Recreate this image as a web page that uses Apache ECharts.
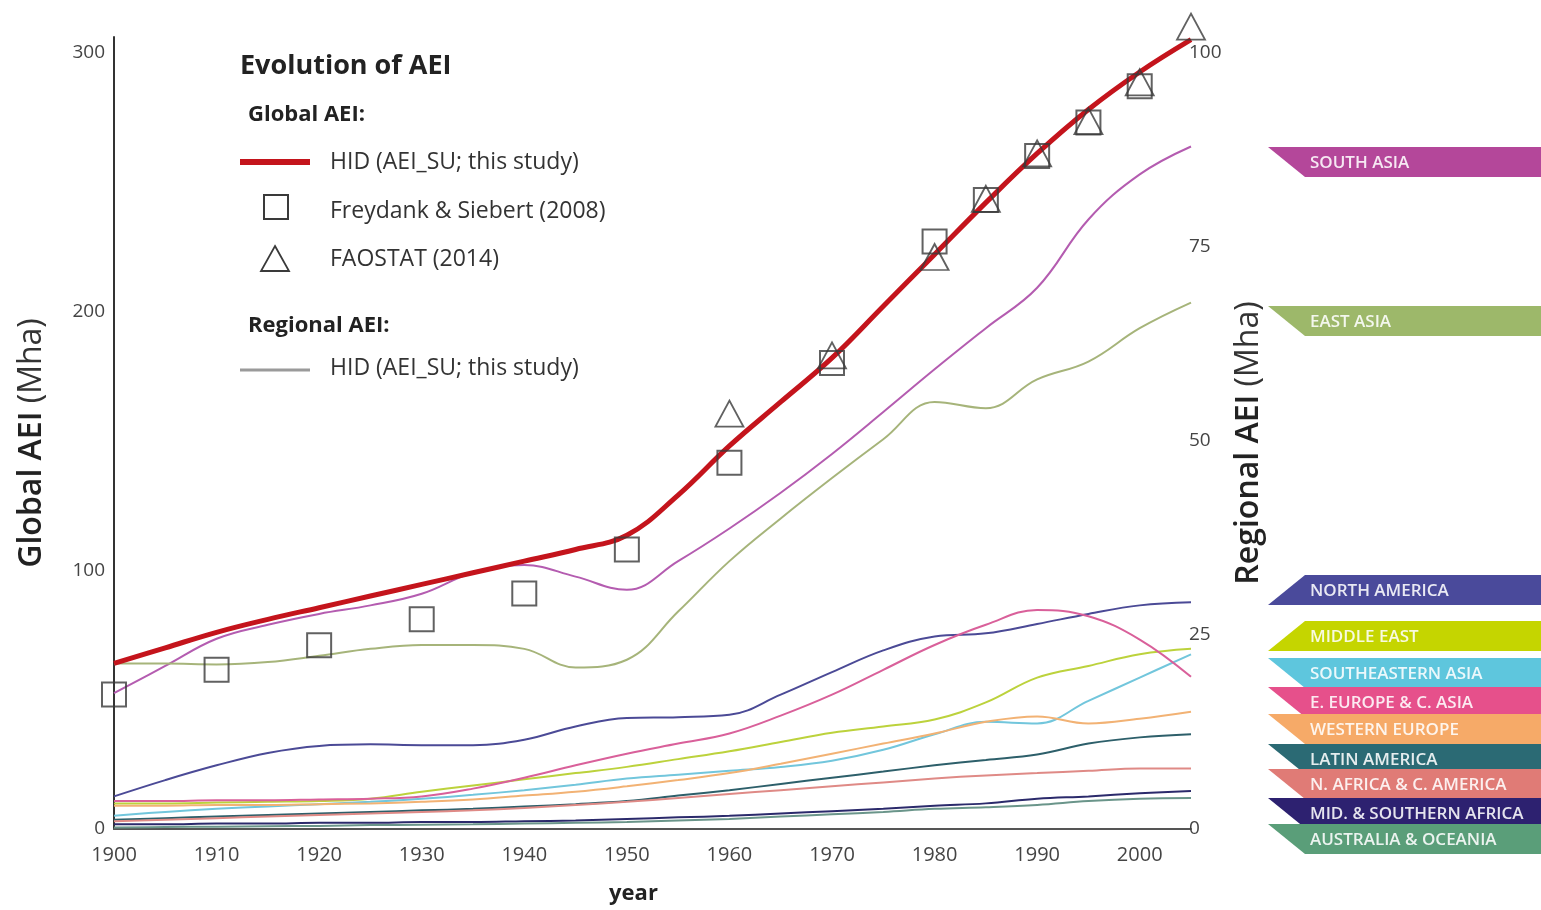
<!DOCTYPE html>
<html>
<head>
<meta charset="utf-8">
<script src="https://cdn.jsdelivr.net/npm/echarts@6/dist/echarts.min.js"></script>
<style>
html,body{margin:0;padding:0;background:#fff;}
#chart{width:1541px;height:910px;}
</style>
</head>
<body>
<div id="chart"></div>
<script>
// ---------- DATA ----------
const years = [1900,1905,1910,1915,1920,1925,1930,1935,1940,1945,1950,1955,1960,1965,1970,1975,1980,1985,1990,1995,2000,2005];
const globalHID = [64,70,76,81,85.5,90,94.5,99,103.5,108,113.5,129,148,165,182,202,222,242,261,278,292.5,305];
const fsYears = [1900,1910,1920,1930,1940,1950,1960,1970,1980,1985,1990,1995,2000];
const fsValues = [52,61.5,71,81,91,108,141.5,180,227,243,260,273,287];
const faoYears = [1960,1970,1980,1985,1990,1995,2000,2005];
const faoValues = [160.5,183,221,243.5,261,273.5,288.5,310];

const regionNames = ['SOUTH ASIA','EAST ASIA','NORTH AMERICA','MIDDLE EAST','SOUTHEASTERN ASIA','E. EUROPE & C. ASIA','WESTERN EUROPE','LATIN AMERICA','N. AFRICA & C. AMERICA','MID. & SOUTHERN AFRICA','AUSTRALIA & OCEANIA'];
const southAsia    = [17.5,21,24.5,26.3,27.7,28.8,30.3,33,34,32.5,30.8,34.5,38.7,43.3,48.3,53.7,59.2,64.5,69.7,78.5,84.3,87.9];
const eastAsia     = [21.3,21.3,21.2,21.5,22.3,23.2,23.7,23.7,23.2,20.8,21.8,28,34.5,40,45.2,50.2,55,54.2,57.9,60.2,64.5,67.8];
const northAmerica = [4.2,6.3,8.2,9.8,10.7,10.9,10.8,10.8,11.5,13.2,14.3,14.4,14.7,17.3,20.2,23,24.8,25.2,26.4,27.7,28.8,29.2];
const middleEast   = [3.3,3.3,3.4,3.5,3.6,3.9,4.8,5.6,6.4,7.2,8.0,9.0,10.0,11.2,12.4,13.2,14.1,16.3,19.5,21,22.5,23.2];
const seAsia       = [1.7,2.2,2.6,2.9,3.2,3.5,3.9,4.4,5.0,5.7,6.5,7.0,7.5,8.0,8.8,10.2,12.2,13.8,13.6,16.5,19.5,22.5];
const eEurope      = [3.6,3.6,3.7,3.7,3.8,3.9,4.2,5.2,6.6,8.2,9.7,11,12.3,14.6,17.3,20.5,23.7,26.3,28.2,27.4,24.4,19.6];
const wEurope      = [3.0,3.0,3.1,3.1,3.2,3.3,3.5,3.8,4.3,4.8,5.5,6.3,7.2,8.4,9.7,11,12.3,13.8,14.5,13.6,14.2,15.1];
const latinAmerica = [1.2,1.4,1.6,1.8,2.0,2.2,2.4,2.6,2.9,3.2,3.6,4.3,5.0,5.8,6.6,7.4,8.2,8.9,9.6,11.0,11.8,12.2];
const nAfrica      = [1.0,1.2,1.4,1.6,1.8,2.0,2.2,2.4,2.7,3.1,3.5,4.0,4.5,5.0,5.5,6.0,6.5,6.9,7.2,7.5,7.8,7.8];
const midSAfrica   = [0.6,0.6,0.7,0.7,0.8,0.8,0.9,0.9,1.0,1.1,1.3,1.5,1.7,2.0,2.3,2.6,3.0,3.3,3.9,4.2,4.6,4.9];
const australia    = [0.2,0.25,0.3,0.35,0.4,0.5,0.55,0.6,0.7,0.8,0.9,1.1,1.3,1.6,1.9,2.2,2.6,2.8,3.1,3.6,3.9,4.0];
const regionalValues = [southAsia,eastAsia,northAmerica,middleEast,seAsia,eEurope,wEurope,latinAmerica,nAfrica,midSAfrica,australia];

const leftTicks = [0,100,200,300];
const rightTicks = [0,25,50,75,100];

// ---------- STYLE ----------
const lineColors = ['#b45cb0','#a6b47a','#4b4a96','#bcd23c','#72c6dc','#d9609a','#f2b274','#2d5f6a','#df8a86','#2b2a6b','#6a958a'];
const ribbonColors = ['#b4479a','#9db86a','#4a4a9b','#c5d500','#5ec6dd','#e6508b','#f6aa68','#2b6a74','#e07b76','#2d2170','#5a9e79'];
const ribbonTops = [147,306,575,621,658,687,714,744,769,798,824];
const ribbonUp = [false,false,true,true,false,false,false,false,false,false,false];
const FONT = '"Open Sans", "DejaVu Sans", sans-serif';

const pairs = (xs, ys) => xs.map((x,i)=>[x, ys[i]]);

const series = [];
regionalValues.forEach((vals,i)=>{
  series.push({
    name: regionNames[i], type:'line', yAxisIndex:1, data: pairs(years, vals),
    smooth:0.4, symbol:'none', clip:false,
    lineStyle:{color: lineColors[i], width:2}, z:2
  });
});
series.push({
  name:'HID (AEI_SU; this study)', type:'line', yAxisIndex:0, data: pairs(years, globalHID),
  smooth:0.4, symbol:'none', clip:false,
  lineStyle:{color:'#c4141c', width:5}, z:5
});
series.push({
  name:'Freydank & Siebert (2008)', type:'scatter', yAxisIndex:0, data: pairs(fsYears, fsValues),
  symbol:'rect', symbolSize:24, clip:false,
  itemStyle:{color:'rgba(0,0,0,0)', borderColor:'#3a3a3a', borderWidth:2}, z:6
});
series.push({
  name:'FAOSTAT (2014)', type:'scatter', yAxisIndex:0, data: pairs(faoYears, faoValues),
  symbol:'triangle', symbolSize:[28,26], clip:false,
  itemStyle:{color:'rgba(0,0,0,0)', borderColor:'#3a3a3a', borderWidth:1.8}, z:7
});

const graphics = [];
// legend block
graphics.push({type:'text', x:240, y:66, style:{text:'Evolution of AEI', font:'bold 27px '+FONT, fill:'#222', verticalAlign:'middle'}});
graphics.push({type:'text', x:248, y:115, style:{text:'Global AEI:', font:'bold 22px '+FONT, fill:'#222', verticalAlign:'middle'}});
graphics.push({type:'line', shape:{x1:240,y1:162,x2:310,y2:162}, style:{stroke:'#c4141c', lineWidth:6}});
graphics.push({type:'text', x:330, y:162, style:{text:'HID (AEI_SU; this study)', font:'23px '+FONT, fill:'#333', verticalAlign:'middle'}});
graphics.push({type:'rect', shape:{x:264,y:195,width:24,height:24}, style:{fill:'none', stroke:'#3a3a3a', lineWidth:2}});
graphics.push({type:'text', x:330, y:211, style:{text:'Freydank & Siebert (2008)', font:'23px '+FONT, fill:'#333', verticalAlign:'middle'}});
graphics.push({type:'polygon', shape:{points:[[275,246],[289,271],[261,271]]}, style:{fill:'none', stroke:'#3a3a3a', lineWidth:1.8}});
graphics.push({type:'text', x:330, y:259, style:{text:'FAOSTAT (2014)', font:'23px '+FONT, fill:'#333', verticalAlign:'middle'}});
graphics.push({type:'text', x:248, y:326, style:{text:'Regional AEI:', font:'bold 22px '+FONT, fill:'#222', verticalAlign:'middle'}});
graphics.push({type:'line', shape:{x1:240,y1:370,x2:310,y2:370}, style:{stroke:'#9a9a9a', lineWidth:3}});
graphics.push({type:'text', x:330, y:368, style:{text:'HID (AEI_SU; this study)', font:'23px '+FONT, fill:'#333', verticalAlign:'middle'}});
// region ribbons
regionNames.forEach((nm,i)=>{
  const t = ribbonTops[i], b = t + 30;
  const xt = ribbonUp[i] ? 1305 : 1268;
  const xb = ribbonUp[i] ? 1268 : 1305;
  graphics.push({type:'polygon', z:10+i, shape:{points:[[xt,t],[1541,t],[1541,b],[xb,b]]}, style:{fill:ribbonColors[i]}});
  graphics.push({type:'text', z:10+i, x:1310, y:t+16, style:{text:nm, font:'600 17px '+FONT, fill:'rgba(255,255,255,0.88)', verticalAlign:'middle'}});
});

const nameRich = {
  b:{fontFamily:FONT, fontSize:32, fontWeight:600, color:'#222'},
  n:{fontFamily:FONT, fontSize:32, color:'#333'}
};

const chart = echarts.init(document.getElementById('chart'));
chart.setOption({
  animation:false,
  backgroundColor:'#fff',
  grid:{left:114, right:350, top:37, bottom:77, containLabel:false},
  xAxis:{
    type:'value', min:1900, max:2005, interval:10,
    name:'year', nameLocation:'middle', nameGap:54,
    nameTextStyle:{fontFamily:FONT, fontSize:22, fontWeight:'bold', color:'#222', padding:[0,38,0,0]},
    axisLine:{show:true, lineStyle:{color:'#555', width:2}},
    axisTick:{show:false}, splitLine:{show:false},
    axisLabel:{fontFamily:FONT, fontSize:20, color:'#444', margin:16, showMaxLabel:false, formatter: v => String(v)}
  },
  yAxis:[{
    type:'value', min:0, max:306, interval:100, position:'left',
    name:'{b|Global AEI }{n|(Mha)}', nameLocation:'middle', nameGap:66, nameRotate:90,
    nameTextStyle:{padding:[0,20,0,0], rich:nameRich},
    axisLine:{show:true, lineStyle:{color:'#333', width:2}},
    axisTick:{show:false}, splitLine:{show:false},
    axisLabel:{fontFamily:FONT, fontSize:19, color:'#444', margin:9, showMaxLabel:false,
      formatter: v => leftTicks.includes(v) ? String(v) : ''}
  },{
    type:'value', min:0, max:102, interval:25, position:'right',
    name:'{b|Regional AEI }{n|(Mha)}', nameLocation:'middle', nameGap:29, nameRotate:90,
    nameTextStyle:{padding:[0,20,0,0], rich:nameRich},
    axisLine:{show:false}, axisTick:{show:false}, splitLine:{show:false},
    axisLabel:{fontFamily:FONT, fontSize:19, color:'#444', margin:-2, showMaxLabel:false,
      formatter: v => rightTicks.includes(v) ? String(v) : ''}
  }],
  series: series,
  graphic: graphics
});
</script>
</body>
</html>
